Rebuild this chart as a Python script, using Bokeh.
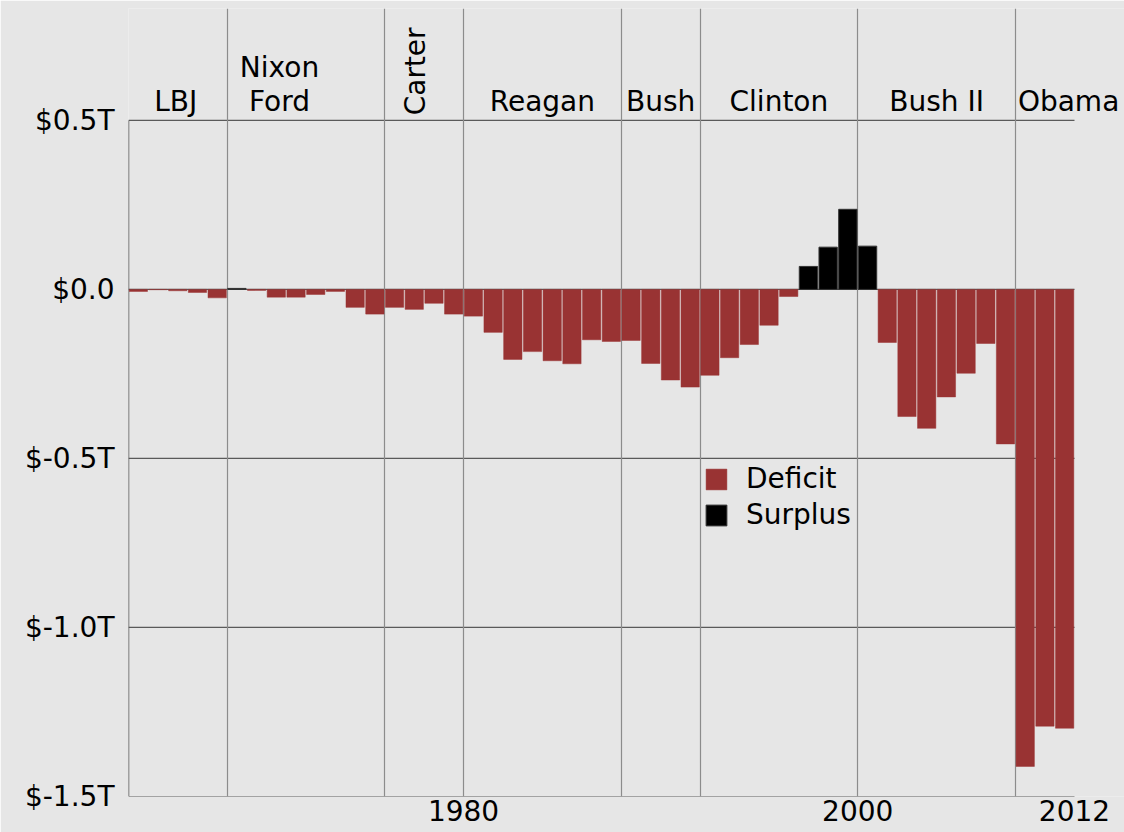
import numpy as np
from bokeh.plotting import figure
from bokeh.models import (Range1d, FixedTicker, Legend, LegendItem, ColumnDataSource, Label)
from bokeh.embed import file_html
from bokeh.resources import INLINE

# ---------------- data ----------------
years = list(range(1964, 2012))
balance_trillions = [
    -0.006, -0.001, -0.004, -0.009, -0.025, 0.003, -0.003, -0.023, -0.023, -0.015, -0.006,
    -0.053, -0.073, -0.053, -0.059, -0.041, -0.073,
    -0.079, -0.127, -0.207, -0.184, -0.211, -0.220, -0.149, -0.154, -0.151, -0.219,
    -0.268, -0.289, -0.254, -0.202, -0.163, -0.106, -0.021,
    0.068, 0.125, 0.237, 0.128,
    -0.157, -0.376, -0.411, -0.318, -0.248, -0.160, -0.457, -1.411, -1.292, -1.298,
]
president_names = ["LBJ", "Nixon\nFord", "Carter", "Reagan", "Bush", "Clinton", "Bush II", "Obama"]
term_start = [1963, 1968, 1976, 1980, 1988, 1992, 2000, 2008]
term_end = [1968, 1976, 1980, 1988, 1992, 2000, 2008, 2012]

y_tick_values = [0.5, 0.0, -0.5, -1.0, -1.5]
y_tick_labels = ["$0.5T", "$0.0", "$-0.5T", "$-1.0T", "$-1.5T"]
x_tick_values = [1980, 2000, 2011]
x_tick_labels = ["1980", "2000", "2012"]

# ---------------- style ----------------
FONT = "DejaVu Sans"
FS = "28px"
BG = "#e6e6e6"
RED = "#993333"

W, H = 1124, 832
LEFT, TOP, BOTTOM = 128, 8, 36
data_left, data_right = 1963, 2011          # plotted span of years (bars)
data_px = 946                                # pixel width of that span
px_per_year = data_px / (data_right - data_left)
x_end = data_left + (W - LEFT) / px_per_year  # frame extends to the right edge
y0, y1 = -1.5, 0.831

p = figure(width=W, height=H, output_backend="svg", toolbar_location=None,
           x_range=Range1d(data_left, x_end), y_range=Range1d(y0, y1),
           min_border_left=LEFT, min_border_right=0, min_border_top=TOP,
           min_border_bottom=BOTTOM)
p.background_fill_color = BG
p.border_fill_color = BG
p.outline_line_color = None

# axes
p.yaxis.ticker = FixedTicker(ticks=y_tick_values)
p.yaxis.major_label_overrides = {v: l for v, l in zip(y_tick_values, y_tick_labels)}
p.xaxis.ticker = FixedTicker(ticks=x_tick_values)
p.xaxis.major_label_overrides = {v: l for v, l in zip(x_tick_values, x_tick_labels)}
for ax in (p.xaxis[0], p.yaxis[0]):
    ax.axis_line_color = None
    ax.major_tick_line_color = None
    ax.minor_tick_line_color = None
    ax.major_tick_out = 0
    ax.major_tick_in = 0
    ax.major_label_text_font = FONT
    ax.major_label_text_font_size = FS
    ax.major_label_text_color = "black"
p.yaxis.major_label_standoff = 14
p.xaxis.major_label_standoff = 3

# grid: vertical term boundaries; horizontal lines across the data span only
p.ygrid.grid_line_color = None
p.xgrid.ticker = FixedTicker(ticks=term_start[1:])
p.xgrid.grid_line_color = "#8c8c8c"
p.xgrid.grid_line_width = 1.2
p.segment(x0=[data_left] * len(y_tick_values), y0=y_tick_values,
          x1=[data_right] * len(y_tick_values), y1=y_tick_values,
          line_color="#5a5a5a", line_width=1.2, level="underlay")

# left axis line (from top gridline down)
p.segment(x0=[data_left], y0=[y0], x1=[data_left], y1=[y_tick_values[0]],
          line_color="#555555", line_width=1.5)

# bars
yrs = np.array(years)
bal = np.array(balance_trillions)
centers = yrs - 0.5
deficit = ColumnDataSource(dict(x=centers[bal < 0], top=bal[bal < 0]))
surplus = ColumnDataSource(dict(x=centers[bal >= 0], top=bal[bal >= 0]))
r_def = p.vbar(x="x", top="top", bottom=0, width=0.93, source=deficit,
               fill_color=RED, line_color=RED, line_alpha=0.6, line_width=0.8)
r_sur = p.vbar(x="x", top="top", bottom=0, width=0.93, source=surplus,
               fill_color="black", line_color="#333333", line_width=1)

# president labels
label_offsets = {"Nixon\nFord": -1.34, "Carter": -0.45, "Obama": 0.7, "LBJ": -0.1}
base_y = 0.557
row_step = 0.1
for name, s, e in zip(president_names, term_start, term_end):
    mid = (s + e) / 2 + label_offsets.get(name, 0.0)
    if name == "Carter":
        p.add_layout(Label(x=mid, y=0.515, text=name, angle=np.pi / 2, text_font=FONT,
                           text_font_size=FS, text_align="left", text_baseline="middle",
                           text_color="black"))
        continue
    lines = name.split("\n")
    n = len(lines)
    for i, ln in enumerate(lines):
        p.add_layout(Label(x=mid, y=base_y + (n - 1 - i) * row_step, text=ln,
                           text_font=FONT, text_font_size=FS, text_align="center",
                           text_baseline="alphabetic", text_color="black"))

# legend
legend = Legend(items=[LegendItem(label="Deficit", renderers=[r_def]),
                       LegendItem(label="Surplus", renderers=[r_sur])],
                location=(575, 265), orientation="vertical",
                background_fill_alpha=0, border_line_color=None,
                padding=0, margin=0, spacing=3,
                glyph_width=26, glyph_height=26, label_height=25,
                label_standoff=17, label_text_font=FONT, label_text_font_size=FS,
                label_text_baseline="middle", label_text_color="black")
p.add_layout(legend)

open("out.html", "w").write(file_html(p, INLINE))
